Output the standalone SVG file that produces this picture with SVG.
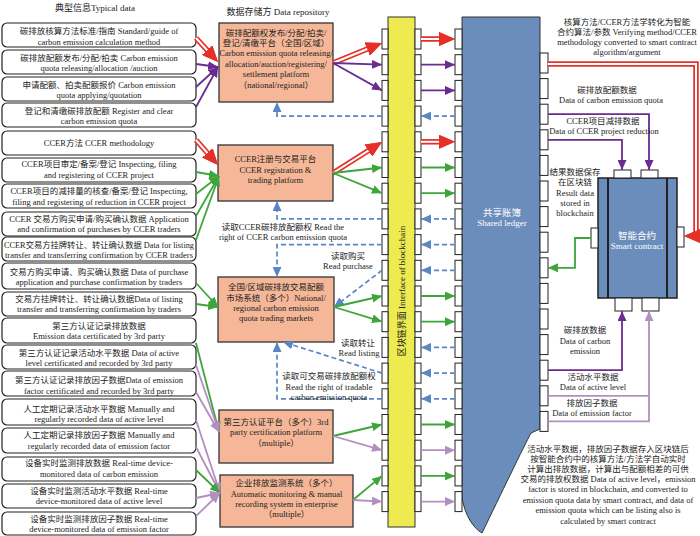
<svg xmlns="http://www.w3.org/2000/svg" width="700" height="536" viewBox="0 0 700 536">
<defs>
<marker id="aR" markerUnits="userSpaceOnUse" markerWidth="16" markerHeight="14" viewBox="0 0 16 14" refX="8" refY="7" orient="auto"><path d="M0,0 L16,7 L0,14 z" fill="#E5302A"/></marker>
<marker id="aP" markerUnits="userSpaceOnUse" markerWidth="10" markerHeight="9" viewBox="0 0 10 9" refX="10" refY="4.5" orient="auto"><path d="M0,0 L10,4.5 L0,9 z" fill="#6B2C91"/></marker>
<marker id="aG" markerUnits="userSpaceOnUse" markerWidth="10" markerHeight="9" viewBox="0 0 10 9" refX="10" refY="4.5" orient="auto"><path d="M0,0 L10,4.5 L0,9 z" fill="#3DA53A"/></marker>
<marker id="aM" markerUnits="userSpaceOnUse" markerWidth="10" markerHeight="9" viewBox="0 0 10 9" refX="10" refY="4.5" orient="auto"><path d="M0,0 L10,4.5 L0,9 z" fill="#B38EC0"/></marker>
<marker id="aB" markerUnits="userSpaceOnUse" markerWidth="10" markerHeight="9" viewBox="0 0 10 9" refX="10" refY="4.5" orient="auto"><path d="M0,0 L10,4.5 L0,9 z" fill="#5B86C5"/></marker>
</defs>
<style>
.t{font-family:"Liberation Serif","Noto Sans CJK SC",serif;font-size:8.5px;fill:#222;text-anchor:middle}
.tw{font-family:"Liberation Serif","Noto Sans CJK SC",serif;font-size:9.5px;fill:#fff;text-anchor:middle}
.lb{fill:#fff;stroke:#222;stroke-width:1.2}
.pf{fill:#F5B797;stroke:#333;stroke-width:1.3}
.sb{fill:#fff;stroke:#222;stroke-width:1}
.ro{fill:none;stroke:#E5302A;stroke-width:5.5;marker-end:url(#aR)}
.ri{fill:none;stroke:#fff;stroke-width:2;marker-end:url(#aR)}
.pu{fill:none;stroke:#6B2C91;stroke-width:1.8;marker-end:url(#aP)}
.gr{fill:none;stroke:#3DA53A;stroke-width:1.8;marker-end:url(#aG)}
.mv{fill:none;stroke:#B38EC0;stroke-width:1.8;marker-end:url(#aM)}
.bd{fill:none;stroke:#5B86C5;stroke-width:1.7;stroke-dasharray:5 3;marker-end:url(#aB)}
.pl{fill:none;stroke:#6B2C91;stroke-width:1.8}
.ml{fill:none;stroke:#B38EC0;stroke-width:1.8}
</style>
<rect width="700" height="536" fill="#fff"/>

<text class="t" x="95" y="11" style="font-size:9px">典型信息Typical data</text>
<text class="t" x="278" y="15" style="font-size:9px">数据存储方 Data repository</text>

<!-- left data boxes -->
<g id="d1"><rect class="lb" x="2" y="23" width="194" height="24" rx="5"/><text class="t" x="99" y="34">碳排放核算方法标准/指南 Standard/guide of</text><text class="t" x="99" y="45">carbon emission calculation method</text></g>
<g id="d2"><rect class="lb" x="2" y="50" width="194" height="24" rx="5"/><text class="t" x="99" y="61">碳排放配额发布/分配/拍卖 Carbon emission</text><text class="t" x="99" y="71">quota releasing/allocation /auction</text></g>
<g id="d3"><rect class="lb" x="2" y="77" width="194" height="24" rx="5"/><text class="t" x="99" y="88">申请配额、拍卖配额报价 Carbon emission</text><text class="t" x="99" y="98">quota applying/quotation</text></g>
<g id="d4"><rect class="lb" x="2" y="103" width="194" height="24" rx="5"/><text class="t" x="99" y="114">登记和清缴碳排放配额 Register and clear</text><text class="t" x="99" y="124">carbon emission quota</text></g>
<g id="d5"><rect class="lb" x="2" y="131" width="194" height="24" rx="5"/><text class="t" x="99" y="146">CCER方法 CCER methodology</text></g>
<g id="d6"><rect class="lb" x="2" y="158" width="194" height="24" rx="5"/><text class="t" x="99" y="167">CCER项目审定/备案/登记 Inspecting, filing</text><text class="t" x="99" y="178">and registering of CCER project</text></g>
<g id="d7"><rect class="lb" x="2" y="184" width="194" height="24" rx="5"/><text class="t" x="99" y="194">CCER项目的减排量的核查/备案/登记 Inspecting,</text><text class="t" x="99" y="205">filing and registering of reduction in CCER project</text></g>
<g id="d8"><rect class="lb" x="2" y="212" width="194" height="24" rx="5"/><text class="t" x="99" y="222">CCER 交易方购买申请/购买确认数据 Application</text><text class="t" x="99" y="232">and confirmation of purchases by CCER traders</text></g>
<g id="d9"><rect class="lb" x="2" y="237" width="194" height="24" rx="5"/><text class="t" x="99" y="248" textLength="190" lengthAdjust="spacingAndGlyphs">CCER交易方挂牌转让、转让确认数据 Data for listing</text><text class="t" x="99" y="258" textLength="188" lengthAdjust="spacingAndGlyphs">transfer and transferring confirmation by CCER traders</text></g>
<g id="d10"><rect class="lb" x="2" y="263" width="194" height="26" rx="5"/><text class="t" x="99" y="275">交易方购买申请、购买确认数据 Data of purchase</text><text class="t" x="99" y="285">application and purchase confirmation by traders</text></g>
<g id="d11"><rect class="lb" x="2" y="292" width="194" height="24" rx="5"/><text class="t" x="99" y="302">交易方挂牌转让、转让确认数据Data of listing</text><text class="t" x="99" y="312">transfer and transferring confirmation by traders</text></g>
<g id="d12"><rect class="lb" x="2" y="318" width="194" height="25" rx="5"/><text class="t" x="99" y="329">第三方认证记录排放数据</text><text class="t" x="99" y="339">Emission data certificated  by 3rd party</text></g>
<g id="d13"><rect class="lb" x="2" y="345" width="194" height="24" rx="5"/><text class="t" x="99" y="356">第三方认证记录活动水平数据  Data of active</text><text class="t" x="99" y="366">level certificated and recorded  by 3rd party</text></g>
<g id="d14"><rect class="lb" x="2" y="371" width="194" height="25" rx="5"/><text class="t" x="99" y="383">第三方认证记录排放因子数据Data of emission</text><text class="t" x="99" y="394">factor certificated and recorded  by 3rd party</text></g>
<g id="d15"><rect class="lb" x="2" y="399" width="194" height="26" rx="5"/><text class="t" x="99" y="412">人工定期记录活动水平数据 Manually and</text><text class="t" x="99" y="422">regularly recorded data of active level</text></g>
<g id="d16"><rect class="lb" x="2" y="428" width="194" height="25" rx="5"/><text class="t" x="99" y="438">人工定期记录排放因子数据 Manually and</text><text class="t" x="99" y="449">regularly recorded data of emission factor</text></g>
<g id="d17"><rect class="lb" x="2" y="457" width="194" height="24" rx="5"/><text class="t" x="99" y="466">设备实时监测排放数据 Real-time device-</text><text class="t" x="99" y="477">monitored data of carbon emission</text></g>
<g id="d18"><rect class="lb" x="2" y="484" width="194" height="24" rx="5"/><text class="t" x="99" y="494">设备实时监测活动水平数据 Real-time</text><text class="t" x="99" y="504">device-monitored data of active level</text></g>
<g id="d19"><rect class="lb" x="2" y="512" width="194" height="23" rx="5"/><text class="t" x="99" y="522">设备实时监测排放因子数据 Real-time</text><text class="t" x="99" y="532">device-monitored data of emission factor</text></g>

<!-- platforms -->
<g id="pA"><rect class="pf" x="219" y="23" width="114" height="79"/>
<text class="t" x="276" y="36">碳排配额权发布/分配/拍卖/</text><text class="t" x="276" y="46">登记/清缴平台（全国/区域）</text><text class="t" x="276" y="56">Carbon emission quota releasing/</text><text class="t" x="276" y="67">allocation/auction/registering/</text><text class="t" x="276" y="77">settlement platform</text><text class="t" x="276" y="88">（national/regional）</text></g>
<g id="pB"><rect class="pf" x="218" y="145" width="115" height="56"/>
<text class="t" x="275.5" y="162">CCER注册与交易平台</text><text class="t" x="275.5" y="173">CCER registration &amp;</text><text class="t" x="275.5" y="183">trading platform</text></g>
<g id="pC"><rect class="pf" x="218" y="277" width="116" height="65"/>
<text class="t" x="276" y="290">全国/区域碳排放交易配额</text><text class="t" x="276" y="301">市场系统（多个）National/</text><text class="t" x="276" y="311">regional carbon emission</text><text class="t" x="276" y="321">quota trading markets</text></g>
<g id="pD"><rect class="pf" x="219" y="410" width="114" height="53"/>
<text class="t" x="276" y="425">第三方认证平台（多个）3rd</text><text class="t" x="276" y="435">party certification platform</text><text class="t" x="276" y="446">（multiple）</text></g>
<g id="pE"><rect class="pf" x="220" y="475" width="133" height="52"/>
<text class="t" x="286.5" y="486">企业排放监测系统（多个）</text><text class="t" x="286.5" y="497">Automatic monitoring &amp; manual</text><text class="t" x="286.5" y="507">recording system in enterprise</text><text class="t" x="286.5" y="517">（multiple）</text></g>

<!-- blockchain interface -->
<g id="interface">
<rect x="388" y="17" width="27" height="510" fill="#EDEB50" stroke="#333" stroke-width="1"/>
<text class="t" transform="translate(405,291) rotate(-90)" style="font-size:9px">区块链界面 Interface of blockchain</text>
<g class="sb">
<rect x="382" y="29" width="6" height="20"/><rect x="382" y="54.7" width="6" height="20"/><rect x="382" y="80.4" width="6" height="20"/><rect x="382" y="106.1" width="6" height="20"/><rect x="382" y="131.8" width="6" height="20"/><rect x="382" y="157.5" width="6" height="20"/><rect x="382" y="183.2" width="6" height="20"/><rect x="382" y="208.9" width="6" height="20"/><rect x="382" y="234.6" width="6" height="20"/><rect x="382" y="260.3" width="6" height="20"/><rect x="382" y="286" width="6" height="20"/><rect x="382" y="311.7" width="6" height="20"/><rect x="382" y="337.4" width="6" height="20"/><rect x="382" y="363.1" width="6" height="20"/><rect x="382" y="388.8" width="6" height="20"/><rect x="382" y="414.5" width="6" height="20"/><rect x="382" y="440.2" width="6" height="20"/><rect x="382" y="465.9" width="6" height="20"/><rect x="382" y="491.6" width="6" height="20"/>
<rect x="415" y="29" width="6" height="20"/><rect x="415" y="54.7" width="6" height="20"/><rect x="415" y="80.4" width="6" height="20"/><rect x="415" y="106.1" width="6" height="20"/><rect x="415" y="131.8" width="6" height="20"/><rect x="415" y="157.5" width="6" height="20"/><rect x="415" y="183.2" width="6" height="20"/><rect x="415" y="208.9" width="6" height="20"/><rect x="415" y="234.6" width="6" height="20"/><rect x="415" y="260.3" width="6" height="20"/><rect x="415" y="286" width="6" height="20"/><rect x="415" y="311.7" width="6" height="20"/><rect x="415" y="337.4" width="6" height="20"/><rect x="415" y="363.1" width="6" height="20"/><rect x="415" y="388.8" width="6" height="20"/><rect x="415" y="414.5" width="6" height="20"/><rect x="415" y="440.2" width="6" height="20"/><rect x="415" y="465.9" width="6" height="20"/><rect x="415" y="491.6" width="6" height="20"/>
</g>
</g>

<!-- shared ledger -->
<g id="ledger">
<path d="M462,17 H540 V429 L531,433 C524,446 500,496 482,533 C473,528 465,515 462,498 Z" fill="#6B8DBB" stroke="#333" stroke-width="1"/>
<text class="tw" x="502" y="216">共享账簿</text>
<text class="tw" x="502" y="226" style="font-size:9px">Shared ledger</text>
<g class="sb">
<rect x="455" y="29" width="7" height="20"/><rect x="455" y="54.7" width="7" height="20"/><rect x="455" y="80.4" width="7" height="20"/><rect x="455" y="106.1" width="7" height="20"/><rect x="455" y="131.8" width="7" height="20"/><rect x="455" y="157.5" width="7" height="20"/><rect x="455" y="183.2" width="7" height="20"/><rect x="455" y="208.9" width="7" height="20"/><rect x="455" y="234.6" width="7" height="20"/><rect x="455" y="260.3" width="7" height="20"/><rect x="455" y="286" width="7" height="20"/><rect x="455" y="311.7" width="7" height="20"/><rect x="455" y="337.4" width="7" height="20"/><rect x="455" y="363.1" width="7" height="20"/><rect x="455" y="388.8" width="7" height="20"/><rect x="455" y="414.5" width="7" height="20"/><rect x="455" y="440.2" width="7" height="20"/><rect x="455" y="465.9" width="7" height="20"/><rect x="455" y="491.6" width="7" height="20"/>
<rect x="540" y="53" width="8" height="20"/><rect x="540" y="78.6" width="8" height="20"/><rect x="540" y="104.2" width="8" height="20"/><rect x="540" y="129.8" width="8" height="20"/><rect x="540" y="155.4" width="8" height="20"/><rect x="540" y="181" width="8" height="20"/><rect x="540" y="206.6" width="8" height="20"/><rect x="540" y="232.2" width="8" height="20"/><rect x="540" y="257.8" width="8" height="20"/><rect x="540" y="283.4" width="8" height="20"/><rect x="540" y="309" width="8" height="20"/><rect x="540" y="334.6" width="8" height="20"/><rect x="540" y="360.2" width="8" height="20"/><rect x="540" y="385.8" width="8" height="20"/><rect x="540" y="411.4" width="8" height="20"/>
</g>
</g>

<!-- smart contract -->
<g id="smart">
<rect x="598" y="178" width="79" height="120" fill="#6B8DBB" stroke="#222" stroke-width="1.5"/>
<line x1="608" y1="178" x2="608" y2="298" stroke="#222" stroke-width="2"/>
<line x1="667" y1="178" x2="667" y2="298" stroke="#222" stroke-width="2"/>
<text class="tw" x="637" y="239">智能合约</text>
<text class="tw" x="637" y="249" style="font-size:9px">Smart contract</text>
<g class="sb">
<rect x="614" y="170" width="17" height="8"/><rect x="641" y="170" width="17" height="8"/>
<rect x="615" y="298" width="17" height="13"/><rect x="642" y="298" width="17" height="13"/>
<rect x="591" y="228" width="7" height="20"/><rect x="677" y="227" width="7" height="20"/>
</g>
</g>

<!-- connectors -->
<g id="connectors">
<!-- left data to platforms -->
<path class="ro" d="M196,38 L212.6,56.1"/><path class="ri" d="M196,38 L212.6,56.1"/>
<path class="pu" d="M196,64 L218,67"/><path class="pu" d="M196,87 L218,67"/><path class="pu" d="M196,107 L218,67"/>
<path class="ro" d="M196,140 L212.7,159"/><path class="ri" d="M196,140 L212.7,159"/>
<path class="gr" d="M196,172 L219,176"/><path class="gr" d="M196,194 L219,176"/><path class="gr" d="M196,216 L219,176"/><path class="gr" d="M196,240 L219,176"/>
<path class="gr" d="M196,283 L218,307"/><path class="gr" d="M196,304 L218,307"/>
<path class="gr" d="M196,343 L219,432"/><path class="mv" d="M196,365 L219,432"/><path class="mv" d="M196,392 L219,432"/>
<path class="mv" d="M196,420 L220,493"/><path class="mv" d="M196,447 L220,493"/><path class="gr" d="M196,470 L220,493"/><path class="mv" d="M196,498 L220,493"/><path class="mv" d="M196,516 L220,493"/>
<!-- platforms to interface -->
<path class="ro" d="M333,63 L374.6,46"/><path class="ri" d="M333,63 L374.6,46"/>
<path class="pu" d="M333,63 L382,64.7"/><path class="pu" d="M333,63 L382,90.4"/>
<path class="bd" d="M382,116.1 H277 V102"/>
<path class="ro" d="M333,173 L375.2,146.3"/><path class="ri" d="M333,173 L375.2,146.3"/>
<path class="gr" d="M333,173 L382,167.5"/><path class="gr" d="M333,173 L382,193.2"/>
<path class="bd" d="M382,218.9 H277 V201"/>
<path class="bd" d="M382,244.6 H277 V277"/>
<path class="bd" d="M382,270.3 L334,307"/>
<path class="gr" d="M334,307 L382,296"/><path class="gr" d="M334,307 L382,321.7"/>
<path class="bd" d="M382,373.1 L283,342"/>
<path class="bd" d="M382,398.8 H277 V342"/>
<path class="gr" d="M333,436 L382,424.5"/><path class="mv" d="M333,436 L382,450.2"/>
<path class="gr" d="M353,500 L382,475.9"/><path class="mv" d="M353,500 L382,501.6"/>
<!-- interface to ledger -->
<path class="ro" d="M421,39 L447,39"/><path class="ri" d="M421,39 L447,39"/>
<path class="pu" d="M421,64.7 L455,64.7"/>
<path class="pu" d="M421,90.4 L455,90.4"/>
<path class="bd" d="M455,116.1 L421,116.1"/>
<path class="ro" d="M421,141.8 L447,141.8"/><path class="ri" d="M421,141.8 L447,141.8"/>
<path class="gr" d="M421,167.5 L455,167.5"/>
<path class="gr" d="M421,193.2 L455,193.2"/>
<path class="bd" d="M455,218.9 L421,218.9"/>
<path class="bd" d="M455,244.6 L421,244.6"/>
<path class="bd" d="M455,270.3 L421,270.3"/>
<path class="gr" d="M421,296 L455,296"/>
<path class="gr" d="M421,321.7 L455,321.7"/>
<path class="bd" d="M455,347.4 L421,347.4"/>
<path class="bd" d="M455,373.1 L421,373.1"/>
<path class="bd" d="M455,398.8 L421,398.8"/>
<path class="gr" d="M421,424.5 L455,424.5"/>
<path class="mv" d="M421,450.2 L455,450.2"/>
<path class="gr" d="M421,475.9 L455,475.9"/>
<path class="mv" d="M421,501.6 L455,501.6"/>
<!-- ledger and smart contract -->
<path class="ro" d="M548,64 H696 V236 H692"/><path class="ri" d="M548,64 H696 V236 H692"/>
<path class="pu" d="M548,114.2 H649 V170"/>
<path class="pu" d="M548,139.8 H622 V170"/>
<path class="gr" d="M591,238 H575 V267.8 H548"/>
<path class="pu" d="M548,370.2 H622 V311"/>
<path class="ml" d="M548,395.8 H649"/>
<path class="mv" d="M548,421.4 H649 V311"/>
</g>

<!-- labels -->
<g id="labels">
<text class="t" x="283" y="230">读取CCER碳排放配额权 Read the</text>
<text class="t" x="283" y="240">right of CCER carbon emission quota</text>
<text class="t" x="348" y="259">读取购买</text>
<text class="t" x="348" y="269">Read purchase</text>
<text class="t" x="358" y="346">读取转让</text>
<text class="t" x="359" y="356">Read listing</text>
<text class="t" x="329" y="379">读取可交易碳排放配额权</text>
<text class="t" x="329" y="390">Read the right of tradable</text>
<text class="t" x="329" y="400">carbon emission quota</text>
<text class="t" x="627" y="25">核算方法/CCER方法学转化为智能</text>
<text class="t" x="627" y="35">合约算法/参数 Verifying method/CCER</text>
<text class="t" x="627" y="45">methodology converted to smart  contract</text>
<text class="t" x="627" y="55">algorithm/argument</text>
<text class="t" x="607" y="93">碳排放配额数据</text>
<text class="t" x="611" y="103">Data of carbon emission quota</text>
<text class="t" x="603" y="124">CCER项目减排数据</text>
<text class="t" x="604" y="134">Data of CCER project reduction</text>
<text class="t" x="575" y="175">结果数据保存</text>
<text class="t" x="575" y="185">在区块链</text>
<text class="t" x="575" y="196">Result data</text>
<text class="t" x="575" y="206">stored in</text>
<text class="t" x="575" y="216">blockchain</text>
<text class="t" x="585" y="333">碳排放数据</text>
<text class="t" x="585" y="344">Data of carbon</text>
<text class="t" x="585" y="354">emission</text>
<text class="t" x="593" y="380">活动水平数据</text>
<text class="t" x="593" y="390">Data of active level</text>
<text class="t" x="592" y="406">排放因子数据</text>
<text class="t" x="592" y="416">Data of emission factor</text>
<text class="t" x="608" y="452">活动水平数据，排放因子数据存入区块链后</text>
<text class="t" x="608" y="462">按智能合约中的核算方法/方法学自动实时</text>
<text class="t" x="608" y="472">计算出排放数据，计算出与配额相差的可供</text>
<text class="t" x="608" y="482">交易的排放权数据 Data of active level，emission</text>
<text class="t" x="608" y="492">factor is stored in blockchain, and converted to</text>
<text class="t" x="608" y="503">emission quota data by smart contract, and data of</text>
<text class="t" x="608" y="513">emission quota which can be listing also is</text>
<text class="t" x="608" y="524">calculated by smart contract</text>
</g>
</svg>
